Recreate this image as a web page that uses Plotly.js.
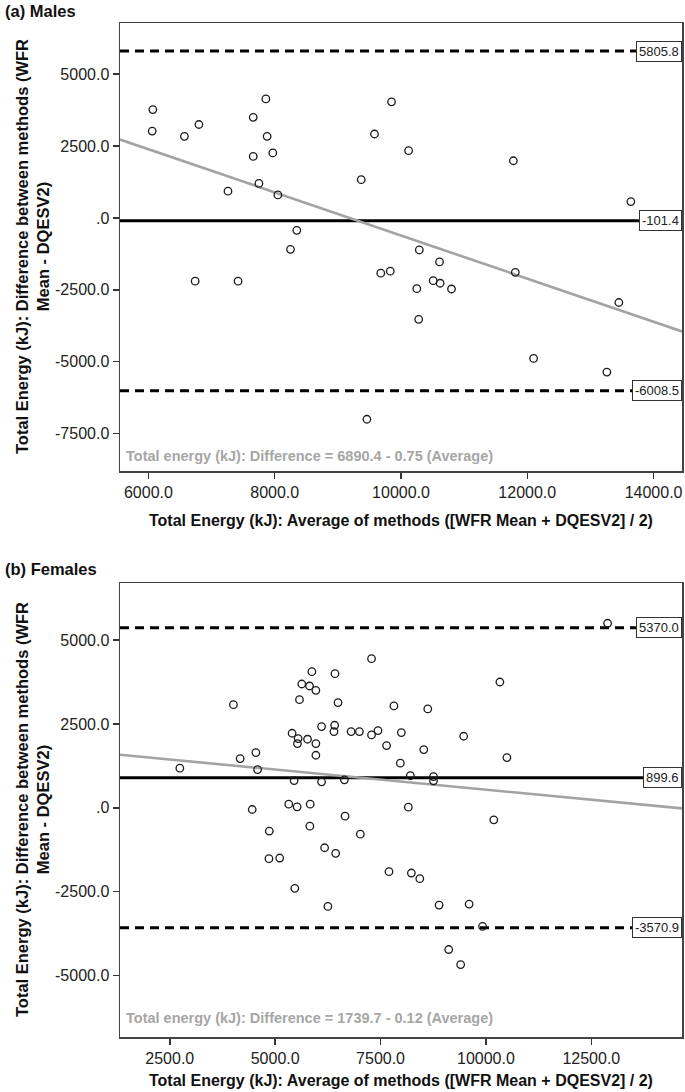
<!DOCTYPE html>
<html>
<head>
<meta charset="utf-8">
<script src="https://cdn.plot.ly/plotly-3.0.1.min.js"></script>
<style>html,body{margin:0;padding:0;background:#fff;}#chart{width:685px;height:1092px;}</style>
</head>
<body>
<div id="chart"></div>
<script>
// ---- Males (a) ----
const malesAvg  = [6070, 6060, 6570, 6800, 7860, 7660, 7880, 7660, 7970, 7750, 7260, 8050, 9580, 9370, 8350, 8250, 6740, 7420,
                   9850, 10120, 11780, 13640, 10290, 10610, 9680, 9830, 10250, 10510, 10620, 10800, 11810, 13450, 10280, 12100, 13260, 9460];
const malesDiff = [3770, 3020, 2840, 3250, 4140, 3500, 2840, 2140, 2260, 1200, 930, 800, 2920, 1330, -430, -1090, -2200, -2200,
                   4040, 2340, 1990, 570, -1110, -1530, -1920, -1850, -2460, -2180, -2270, -2470, -1890, -2940, -3525, -4885, -5360, -7000];
const malesMean = -101.4, malesUpper = 5805.8, malesLower = -6008.5;
const malesIntercept = 6890.4, malesSlope = -0.75;
const malesXRange = [5550, 14450], malesYRange = [-8800, 6780];
const malesXTicks = [6000, 8000, 10000, 12000, 14000];
const malesXTickText = ["6000.0", "8000.0", "10000.0", "12000.0", "14000.0"];
const malesYTicks = [-7500, -5000, -2500, 0, 2500, 5000];
const malesYTickText = ["-7500.0", "-5000.0", "-2500.0", ".0", "2500.0", "5000.0"];
const malesEq = "Total energy (kJ): Difference = 6890.4 - 0.75 (Average)";

// ---- Females (b) ----
const femalesAvg  = [12885, 7286, 5871, 6419, 5632, 5815, 5966, 10330, 4011, 5577, 6491, 7817, 8620, 6101, 6411, 6395, 6801, 6999,
                     7286, 7440, 5402, 5545, 5768, 5529, 5966, 5966, 4543, 4170, 2739, 4583, 5450, 6101, 6642, 7993, 7643, 9472,
                     8525, 7969, 10497, 8207, 8756, 8756, 4456, 5322, 5521, 5831, 8159, 6658, 5823, 4861, 7020, 10186, 6173,
                     6435, 4853, 5108, 5466, 6251, 7700, 8231, 8431, 8889, 9601, 9920, 9117, 9400];
const femalesDiff = [5500, 4444, 4057, 3998, 3690, 3631, 3502, 3750, 3075, 3224, 3135, 3036, 2946, 2420, 2460, 2272, 2272, 2272,
                     2172, 2301, 2222, 2063, 2044, 1915, 1915, 1567, 1647, 1468, 1180, 1141, 813, 774, 833, 2242, 1855, 2133,
                     1736, 1329, 1498, 962, 932, 804, -50, 109, 30, 109, 20, -248, -546, -694, -784, -357, -1190,
                     -1357, -1516, -1496, -2400, -2938, -1903, -1943, -2112, -2898, -2869, -3536, -4223, -4671];
const femalesMean = 899.6, femalesUpper = 5370.0, femalesLower = -3570.9;
const femalesIntercept = 1739.7, femalesSlope = -0.12;
const femalesXRange = [1320, 14650], femalesYRange = [-6830, 6700];
const femalesXTicks = [2500, 5000, 7500, 10000, 12500];
const femalesXTickText = ["2500.0", "5000.0", "7500.0", "10000.0", "12500.0"];
const femalesYTicks = [-5000, -2500, 0, 2500, 5000];
const femalesYTickText = ["-5000.0", "-2500.0", ".0", "2500.0", "5000.0"];
const femalesEq = "Total energy (kJ): Difference = 1739.7 - 0.12 (Average)";

const xTitle = "Total Energy (kJ): Average of methods ([WFR Mean + DQESV2] / 2)";
const yTitle = "Total Energy (kJ): Difference between methods (WFR<br>Mean - DQESV2)";
const panelTitles = ["(a) Males", "(b) Females"];

const FONT = "Liberation Sans, Arial, sans-serif";
const W = 685, H = 1092, ML = 120, MR = 3, MT = 23, MB = 55;
const plotH = H - MT - MB, plotW = W - ML - MR;
const py = p => (H - MB - p) / plotH;     // page pixel y -> paper y
const px = p => (p - ML) / plotW;         // page pixel x -> paper x

function regLine(range, a, b, xa, ya) {
  return {x: range, y: range.map(v => a + b * v), xaxis: xa, yaxis: ya, mode: 'lines',
          line: {color: '#a3a3a3', width: 2.6}, hoverinfo: 'skip', showlegend: false};
}
function pts(x, y, xa, ya) {
  return {x: x, y: y, xaxis: xa, yaxis: ya, mode: 'markers', type: 'scatter', showlegend: false,
          marker: {symbol: 'circle-open', size: 7.5, color: '#1a1a1a', line: {width: 1.3, color: '#1a1a1a'}}};
}
function hline(val, yref, dashed) {
  return {type: 'line', xref: yref === 'y' ? 'x domain' : 'x2 domain', yref: yref, x0: 0, x1: 1, y0: val, y1: val,
          layer: 'below', line: {color: '#000', width: 3, dash: dashed ? '9px,6px' : 'solid'}};
}
function valBox(val, yref) {
  return {xref: 'paper', yref: yref, x: 1, y: val, xanchor: 'right', yanchor: 'middle', showarrow: false,
          text: val.toFixed(1), font: {family: FONT, size: 13, color: '#222'},
          bgcolor: '#fff', bordercolor: '#333', borderwidth: 1, borderpad: 2};
}
function axisX(range, tv, tt, anchor) {
  return {domain: [0, 1], anchor: anchor, range: range, tickvals: tv, ticktext: tt, ticks: 'outside', ticklen: 6,
          tickwidth: 1.5, tickcolor: '#333', showline: true, mirror: true, linecolor: '#444', linewidth: 1.5,
          showgrid: false, zeroline: false, tickfont: {family: FONT, size: 16, color: '#222'}};
}
function axisY(range, tv, tt, anchor, domain) {
  return {domain: domain, anchor: anchor, range: range, tickvals: tv, ticktext: tt, ticks: 'outside', ticklen: 6,
          tickwidth: 1.5, tickcolor: '#333', showline: true, mirror: true, linecolor: '#444', linewidth: 1.5,
          showgrid: false, zeroline: false, tickfont: {family: FONT, size: 16, color: '#222'}};
}

const topDomain = [py(471), 1];
const botDomain = [0, py(583)];

const data = [
  regLine(malesXRange, malesIntercept, malesSlope, 'x', 'y'),
  pts(malesAvg, malesDiff, 'x', 'y'),
  regLine(femalesXRange, femalesIntercept, femalesSlope, 'x2', 'y2'),
  pts(femalesAvg, femalesDiff, 'x2', 'y2')
];

const xTitleFont = {family: FONT, size: 16, color: '#111', weight: 'bold'};
const yTitleFont = {family: FONT, size: 16.5, color: '#111', weight: 'bold'};
const eqFont = {family: FONT, size: 14.5, color: '#a6a6a6', weight: 'bold'};
const panelFont = {family: FONT, size: 16.5, color: '#111', weight: 'bold'};

const layout = {
  width: W, height: H, margin: {l: ML, r: MR, t: MT, b: MB},
  paper_bgcolor: '#fff', plot_bgcolor: '#fff', showlegend: false,
  xaxis: axisX(malesXRange, malesXTicks, malesXTickText, 'y'),
  yaxis: axisY(malesYRange, malesYTicks, malesYTickText, 'x', topDomain),
  xaxis2: axisX(femalesXRange, femalesXTicks, femalesXTickText, 'y2'),
  yaxis2: axisY(femalesYRange, femalesYTicks, femalesYTickText, 'x2', botDomain),
  shapes: [
    hline(malesMean, 'y', false), hline(malesUpper, 'y', true), hline(malesLower, 'y', true),
    hline(femalesMean, 'y2', false), hline(femalesUpper, 'y2', true), hline(femalesLower, 'y2', true)
  ],
  annotations: [
    valBox(malesUpper, 'y'), valBox(malesMean, 'y'), valBox(malesLower, 'y'),
    valBox(femalesUpper, 'y2'), valBox(femalesMean, 'y2'), valBox(femalesLower, 'y2'),
    {xref: 'paper', yref: 'paper', x: px(3), y: py(11), xanchor: 'left', yanchor: 'middle', showarrow: false,
     text: panelTitles[0], font: panelFont},
    {xref: 'paper', yref: 'paper', x: px(3), y: py(569), xanchor: 'left', yanchor: 'middle', showarrow: false,
     text: panelTitles[1], font: panelFont},
    {xref: 'paper', yref: 'paper', x: px(401), y: py(520), xanchor: 'center', yanchor: 'middle', showarrow: false,
     text: xTitle, font: xTitleFont},
    {xref: 'paper', yref: 'paper', x: px(401), y: py(1080), xanchor: 'center', yanchor: 'middle', showarrow: false,
     text: xTitle, font: xTitleFont},
    {xref: 'paper', yref: 'paper', x: px(32), y: py(247), xanchor: 'center', yanchor: 'middle', showarrow: false,
     textangle: -90, text: yTitle, font: yTitleFont},
    {xref: 'paper', yref: 'paper', x: px(32), y: py(810), xanchor: 'center', yanchor: 'middle', showarrow: false,
     textangle: -90, text: yTitle, font: yTitleFont},
    {xref: 'paper', yref: 'paper', x: px(124), y: py(456), xanchor: 'left', yanchor: 'middle', showarrow: false,
     text: malesEq, font: eqFont},
    {xref: 'paper', yref: 'paper', x: px(124), y: py(1018), xanchor: 'left', yanchor: 'middle', showarrow: false,
     text: femalesEq, font: eqFont}
  ]
};

Plotly.newPlot('chart', data, layout, {staticPlot: true, displayModeBar: false});
</script>
</body>
</html>
